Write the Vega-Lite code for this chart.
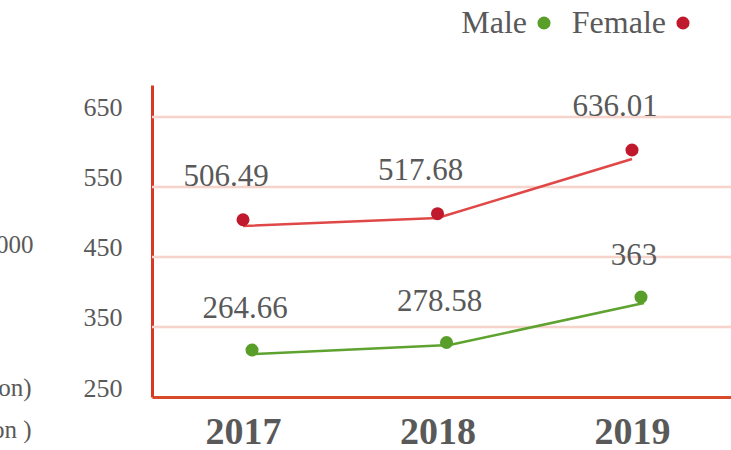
{
  "$schema": "https://vega.github.io/schema/vega-lite/v6.json",
  "width": 579,
  "height": 312,
  "autosize": {"type": "none"},
  "padding": {"left": 152, "top": 85, "right": 0, "bottom": 53},
  "background": "#ffffff",
  "config": {
    "view": {"stroke": null},
    "font": "Liberation Serif"
  },
  "title": {
    "text": "( persons/100,000 population )",
    "anchor": "start",
    "frame": "group",
    "dx": -140,
    "offset": 17,
    "baseline": "alphabetic",
    "font": "Liberation Serif",
    "fontSize": 24,
    "fontWeight": "normal",
    "color": "#595959"
  },
  "datasets": {
    "rates": [
      {"year": "2017", "sex": "Male", "value": 264.66, "trend": 257.2},
      {"year": "2018", "sex": "Male", "value": 278.58, "trend": 273.9},
      {"year": "2019", "sex": "Male", "value": 363, "trend": 351.9},
      {"year": "2017", "sex": "Female", "value": 506.49, "trend": 494.9},
      {"year": "2018", "sex": "Female", "value": 517.68, "trend": 509.7},
      {"year": "2019", "sex": "Female", "value": 636.01, "trend": 619.3}
    ],
    "grid": [
      {"tick": 350},
      {"tick": 450},
      {"tick": 550},
      {"tick": 650}
    ]
  },
  "layer": [
    {
      "data": {"name": "grid"},
      "mark": {"type": "rule", "color": "#f6d3cb", "strokeWidth": 2.5},
      "encoding": {
        "y": {
          "field": "tick",
          "type": "quantitative",
          "scale": {"domain": [250, 695.7], "nice": false, "zero": false},
          "axis": {
            "values": [250, 350, 450, 550, 650],
            "domain": true,
            "domainColor": "#d63a24",
            "domainWidth": 3,
            "ticks": false,
            "grid": false,
            "labelFont": "Liberation Serif",
            "labelFontSize": 26,
            "labelColor": "#595959",
            "labelPadding": 30,
            "labelOffset": -9,
            "labelBaseline": "middle",
            "title": "000",
            "titleAngle": 0,
            "titleAlign": "right",
            "titleBaseline": "alphabetic",
            "titleX": -119,
            "titleY": 167,
            "titleFont": "Liberation Serif",
            "titleFontSize": 25,
            "titleFontWeight": "normal",
            "titleColor": "#595959"
          }
        }
      }
    },
    {
      "data": {"name": "rates"},
      "layer": [
        {
          "transform": [{"filter": "datum.sex === 'Female'"}],
          "mark": {"type": "line", "strokeWidth": 2.5, "xOffset": 0},
          "encoding": {
            "y": {"field": "trend", "type": "quantitative"},
            "color": {"value": "#e04848"}
          }
        },
        {
          "transform": [{"filter": "datum.sex === 'Male'"}],
          "mark": {"type": "line", "strokeWidth": 2.5, "xOffset": 12},
          "encoding": {
            "y": {"field": "trend", "type": "quantitative"},
            "color": {"value": "#5ea22f"}
          }
        },
        {
          "transform": [{"filter": "datum.sex === 'Female'"}],
          "mark": {"type": "circle", "size": 170, "opacity": 1, "xOffset": 0}
        },
        {
          "transform": [{"filter": "datum.sex === 'Male'"}],
          "mark": {"type": "circle", "size": 170, "opacity": 1, "xOffset": 9}
        },
        {
          "transform": [{"filter": "datum.sex === 'Female'"}],
          "mark": {"type": "text", "dy": -43, "dx": -17, "baseline": "middle", "align": "center", "font": "Liberation Serif", "fontSize": 31},
          "encoding": {
            "text": {"field": "value", "type": "nominal"},
            "color": {"value": "#595959"}
          }
        },
        {
          "transform": [{"filter": "datum.sex === 'Male'"}],
          "mark": {"type": "text", "dy": -41, "dx": 2, "baseline": "middle", "align": "center", "font": "Liberation Serif", "fontSize": 31},
          "encoding": {
            "text": {"field": "value", "type": "nominal"},
            "color": {"value": "#595959"}
          }
        }
      ],
      "encoding": {
        "x": {
          "field": "year",
          "type": "ordinal",
          "scale": {"type": "point", "padding": 0.4885, "align": 0.479},
          "axis": {
            "title": ["on)", "on )"],
            "titleAngle": 0,
            "titleAlign": "right",
            "titleBaseline": "alphabetic",
            "titleX": -121,
            "titleY": -2,
            "titleLineHeight": 42,
            "titleFont": "Liberation Serif",
            "titleFontSize": 25,
            "titleFontWeight": "normal",
            "titleColor": "#595959",
            "domain": true,
            "domainColor": "#d84a2a",
            "domainWidth": 3,
            "ticks": false,
            "grid": false,
            "labelAngle": 0,
            "labelFont": "Liberation Serif",
            "labelFontSize": 38,
            "labelFontWeight": "bold",
            "labelColor": "#595959",
            "labelPadding": 16
          }
        },
        "y": {
          "field": "value",
          "type": "quantitative",
          "scale": {"domain": [177.4, 756.7], "nice": false, "zero": false},
          "axis": null
        },
        "color": {
          "field": "sex",
          "type": "nominal",
          "scale": {"domain": ["Male", "Female"], "range": ["#5a9e2a", "#c0182c"]},
          "legend": {
            "orient": "none",
            "legendX": 376,
            "legendY": -78,
            "direction": "horizontal",
            "title": null,
            "symbolType": "circle",
            "symbolSize": 170,
            "symbolStrokeWidth": 0,
            "symbolOpacity": 1,
            "labelAlign": "right",
            "labelOffset": -33,
            "labelFont": "Liberation Serif",
            "labelFontSize": 32,
            "labelColor": "#595959",
            "columnPadding": 20
          }
        }
      }
    }
  ],
  "resolve": {"scale": {"y": "independent"}}
}
